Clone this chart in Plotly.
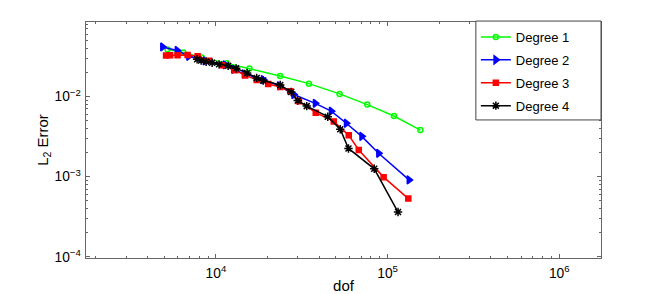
import plotly.graph_objects as go

# ---- data ----
deg1_dof = [5226, 6460, 8270, 11570, 15670, 23660, 34800, 52500, 76100, 108900, 155200]
deg1_err = [0.0386, 0.0356, 0.0307, 0.0260, 0.0224, 0.0181, 0.0145, 0.0108, 0.00793, 0.00571, 0.00381]

deg2_dof = [4887, 5939, 6930, 8647, 11310, 12680, 14600, 18850, 23460, 28380, 37870, 46950, 57430, 70700, 88600, 133300]
deg2_err = [0.04158, 0.03768, 0.03185, 0.02796, 0.02490, 0.02185, 0.01919, 0.01627, 0.01363, 0.01060,
            0.008235, 0.006570, 0.004642, 0.003184, 0.001958, 0.000911]

deg3_dof = [5122, 5406, 5977, 6836, 7820, 9125, 10870, 12940, 14800, 17270, 20150, 23680, 27070, 30440,
            38130, 48560, 59380, 67910, 94760, 132000]
deg3_err = [0.03251, 0.03279, 0.03279, 0.03308, 0.03185, 0.02796, 0.02455, 0.02123, 0.01837, 0.01613,
            0.01436, 0.01317, 0.01166, 0.008726, 0.006290, 0.004890, 0.003278, 0.002154, 0.000986, 0.000532]

deg4_dof = [7768, 8197, 8763, 9500, 10430, 11780, 13110, 15200, 17270, 18850, 23680, 27440, 29950, 33790,
            44800, 52990, 59150, 83580, 115000]
deg4_err = [0.02920, 0.02812, 0.02716, 0.02638, 0.02526, 0.02419, 0.02250, 0.01975, 0.01709, 0.01590,
            0.01395, 0.01139, 0.008906, 0.007596, 0.005604, 0.003901, 0.002250, 0.001253, 0.000361]

names = ["Degree 1", "Degree 2", "Degree 3", "Degree 4"]
colors = ["#00ff00", "#0000ff", "#ff0000", "#000000"]
symbols = ["circle-open", "triangle-right", "square", "asterisk-open"]
msizes = [5, 7, 5, 7]

series = [(deg1_dof, deg1_err), (deg2_dof, deg2_err), (deg3_dof, deg3_err), (deg4_dof, deg4_err)]

FONT = "Liberation Sans, Arial, Helvetica, sans-serif"

fig = go.Figure()
for i, (xs, ys) in enumerate(series):
    fig.add_trace(go.Scatter(
        x=xs, y=ys, mode="lines+markers", name=names[i], legendgroup=names[i],
        line=dict(color=colors[i], width=1.5),
        marker=dict(symbol=symbols[i], size=msizes[i], color=colors[i],
                    line=dict(color=colors[i], width=1.5)),
    ))

axis_common = dict(
    type="log", showgrid=False, zeroline=False, showline=True, linecolor="#666666", linewidth=1,
    mirror="ticks", ticks="inside", ticklen=4, tickcolor="#666666", exponentformat="power",
    dtick=1, tickfont=dict(family=FONT, size=11, color="#000000"), automargin=False,
    minor=dict(ticks="inside", ticklen=2, tickcolor="#666666", showgrid=False),
)

fig.update_xaxes(**axis_common, range=[3.243, 6.243], ticklabelstandoff=3,
                 title=dict(text="dof", font=dict(family=FONT, size=15, color="#000"), standoff=5))
fig.update_yaxes(**axis_common, range=[-4.016, -1.069], ticklabelstandoff=2,
                 title=dict(text="L<sub>2</sub> Error", font=dict(family=FONT, size=15, color="#000"), standoff=2))

# legend frame (wider than plotly's auto-sized legend box)
fig.add_shape(type="rect", xref="paper", yref="paper", x0=0.757, x1=1.0, y0=0.585, y1=1.004,
              line=dict(color="#444444", width=1), fillcolor="white", layer="above")

# page body has an 8px margin; paper is shrunk so the plot box lands at the reference position
fig.update_layout(
    width=656, height=286,
    margin=dict(l=78, r=63, t=14, b=36),
    paper_bgcolor="white", plot_bgcolor="white",
    font=dict(family=FONT, size=12, color="#000"),
    legend=dict(x=0.757, y=1.0, xanchor="left", yanchor="top", bgcolor="rgba(0,0,0,0)",
                borderwidth=0, tracegroupgap=3,
                font=dict(family=FONT, size=13, color="#000")),
    showlegend=True,
)

fig.write_html("out.html")
